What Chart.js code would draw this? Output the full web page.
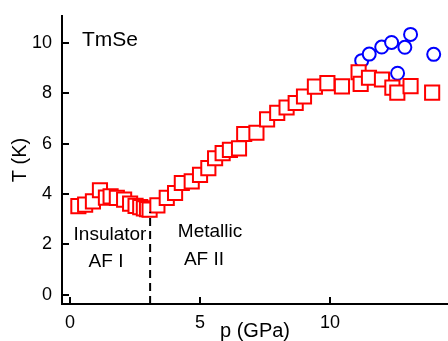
<!DOCTYPE html>
<html>
<head>
<meta charset="utf-8">
<script src="https://cdn.jsdelivr.net/npm/chart.js@4/dist/chart.umd.min.js"></script>
<style>
  html, body { margin: 0; padding: 0; background: #fff; overflow: hidden; }
  canvas { display: block; }
</style>
</head>
<body>
<canvas id="c" width="448" height="341" style="width:448px;height:341px"></canvas>
<script>
// AF phase (red squares)
const afP = [0.32, 0.58, 0.88, 1.15, 1.38, 1.56, 1.80, 2.08, 2.31, 2.52, 2.70, 2.84, 2.96, 3.06,
  3.36, 3.72, 4.04, 4.30, 4.68, 5.00, 5.32, 5.58, 5.87, 6.15, 6.50, 6.70, 7.17, 7.58, 7.97,
  8.33, 8.68, 9.00, 9.42, 9.90, 10.46, 11.10, 11.18, 11.50, 12.00, 12.40, 12.59, 13.10, 13.93];
const afT = [3.52, 3.58, 3.71, 4.15, 3.86, 3.91, 3.85, 3.78, 3.62, 3.53, 3.48, 3.43, 3.40, 3.38,
  3.55, 3.85, 4.04, 4.44, 4.50, 4.76, 5.03, 5.42, 5.62, 5.75, 5.81, 6.38, 6.43, 6.96, 7.22,
  7.43, 7.61, 7.87, 8.26, 8.40, 8.27, 8.83, 8.37, 8.61, 8.54, 8.22, 8.02, 8.28, 8.02];
// upper transition (blue circles)
const upP = [11.22, 11.51, 11.99, 12.37, 12.60, 12.88, 13.10, 13.99];
const upT = [9.29, 9.55, 9.83, 10.01, 8.79, 9.82, 10.33, 9.54];
// insulator / metal boundary
const boundP = [3.08, 3.08];
const boundT = [-0.36, 3.3];

const yTicks = [0, 2, 4, 6, 8, 10];
const xTicks = [0, 5, 10];

const toXY = (xs, ys) => xs.map((x, i) => ({ x: x, y: ys[i] }));
const FONT = 'Liberation Sans, Arial, Helvetica, sans-serif';

// no extra room for edge labels, the plot box is fixed
const noPad = s => { s.paddingTop = 0; s.paddingBottom = 0; s.paddingLeft = 0; s.paddingRight = 0; };

const labels = {
    id: 'labels',
    afterDatasetsDraw(chart) {
        const ctx = chart.ctx;
        ctx.save();
        ctx.fillStyle = '#000';
        ctx.textAlign = 'center';
        ctx.textBaseline = 'middle';
        ctx.font = '21px ' + FONT;
        ctx.fillText('TmSe', 110, 40);
        ctx.font = '19px ' + FONT;
        ctx.fillText('Insulator', 110, 235);
        ctx.fillText('AF I', 106, 262);
        ctx.fillText('Metallic', 210, 232);
        ctx.fillText('AF II', 204, 260);
        ctx.restore();
    }
};

new Chart(document.getElementById('c'), {
    type: 'scatter',
    data: {
        datasets: [
            { type: 'line', data: toXY(boundP, boundT), borderColor: '#000', borderWidth: 2,
              borderDash: [8, 5], pointRadius: 0, fill: false },
            { data: toXY(afP, afT), pointStyle: 'rect', pointRadius: 10, borderWidth: 2,
              borderColor: '#ff0000', backgroundColor: '#fff' },
            { data: toXY(upP, upT), pointStyle: 'circle', pointRadius: 6.5, borderWidth: 2,
              borderColor: '#0000ff', backgroundColor: '#fff' }
        ]
    },
    options: {
        responsive: false,
        devicePixelRatio: 1,
        animation: false,
        layout: { autoPadding: false, padding: { top: 16, right: 0, left: 0, bottom: 0 } },
        plugins: { legend: { display: false }, tooltip: { enabled: false } },
        scales: {
            x: {
                type: 'linear', min: -0.31, max: 14.54,
                afterBuildTicks: s => { s.ticks = xTicks.map(v => ({ value: v })); },
                afterFit: s => { s.height = 37; noPad(s); },
                grid: { drawOnChartArea: false, color: '#000', lineWidth: 2, tickLength: -7 },
                border: { color: '#000', width: 2 },
                ticks: { color: '#000', padding: 15, maxRotation: 0, font: { family: FONT, size: 18 } },
                title: { display: true, text: 'p (GPa)', color: '#000', padding: { top: 0, bottom: -2 },
                         font: { family: FONT, size: 20 } }
            },
            y: {
                type: 'linear', min: -0.36, max: 11.06,
                afterBuildTicks: s => { s.ticks = yTicks.map(v => ({ value: v })); },
                afterFit: s => { s.width = 62; noPad(s); },
                grid: { drawOnChartArea: false, color: '#000', lineWidth: 2, tickLength: -7 },
                border: { color: '#000', width: 2 },
                ticks: { color: '#000', padding: 17, font: { family: FONT, size: 18 } },
                title: { display: true, text: 'T (K)', color: '#000', padding: { top: 8, bottom: 0 },
                         font: { family: FONT, size: 20 } }
            }
        }
    },
    plugins: [labels]
});
</script>
</body>
</html>
